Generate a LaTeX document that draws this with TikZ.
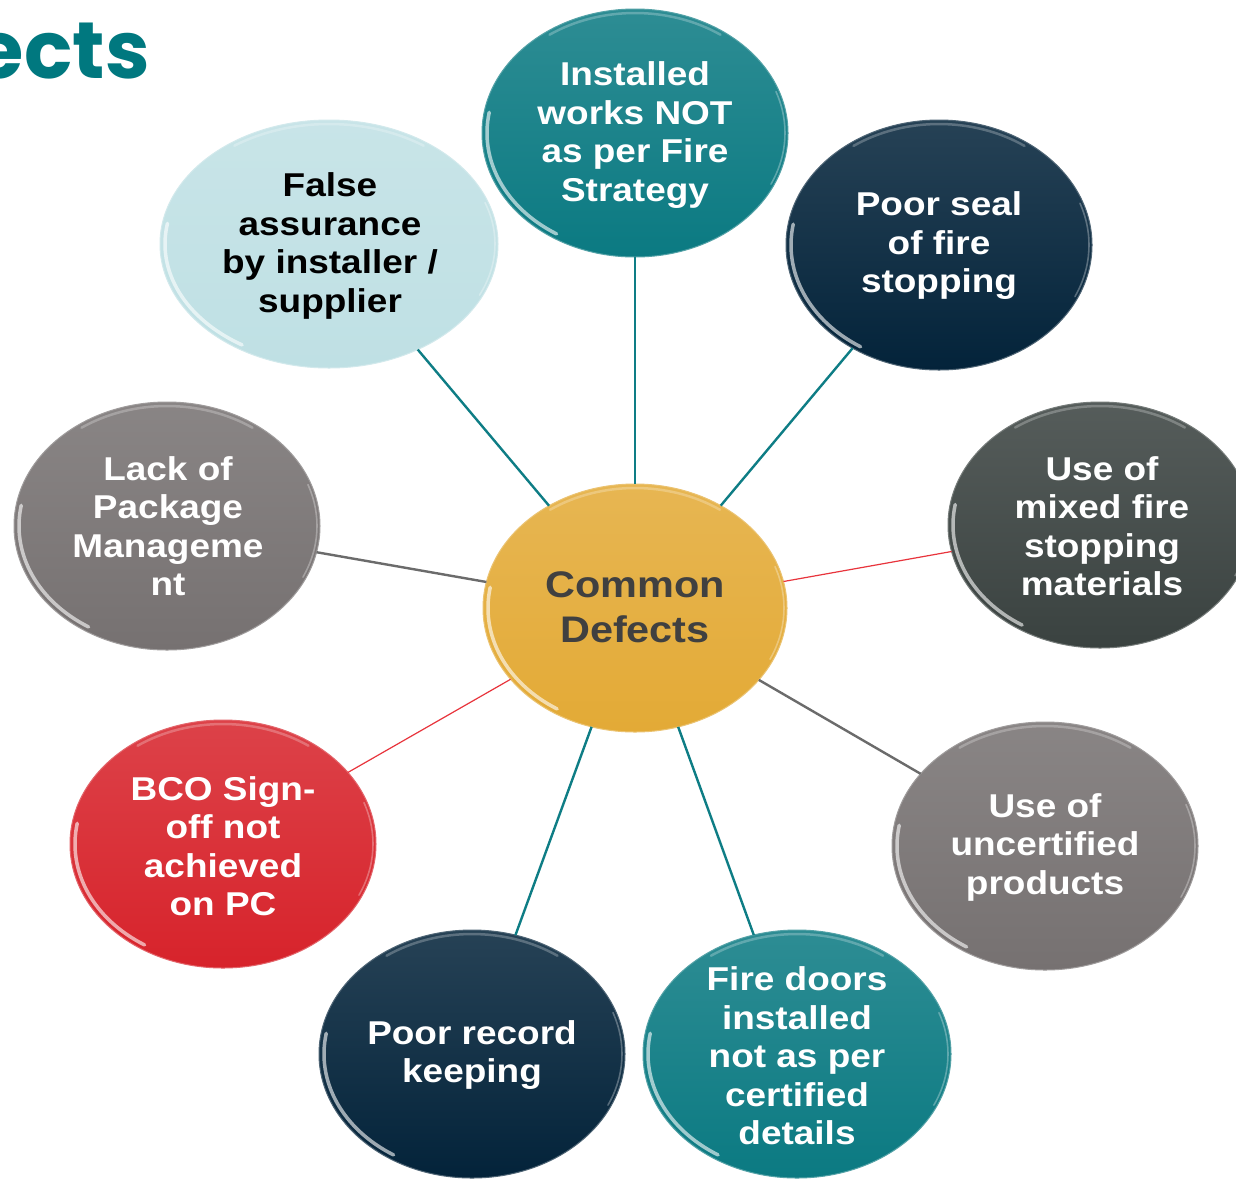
\documentclass[tikz,border=0pt]{standalone}
\usepackage{fontspec}
\setmainfont{Liberation Sans}[FakeStretch=1.12]
\newfontfamily\titlefont{Poppins}
\usetikzlibrary{shapes.geometric}
\definecolor{gold}{HTML}{E3AA36}
\definecolor{tealB}{HTML}{0B7A82}
\definecolor{navy}{HTML}{03233A}
\definecolor{charc}{HTML}{3A4240}
\definecolor{greyB}{HTML}{767171}
\definecolor{redB}{HTML}{D7232B}
\definecolor{lblue}{HTML}{BFE0E4}
\definecolor{lteal}{HTML}{0E7D85}
\definecolor{lgrey}{HTML}{6B6B6B}
\definecolor{lred}{HTML}{E8343C}
\definecolor{ctext}{HTML}{404040}
\definecolor{titleteal}{HTML}{00787F}
\tikzset{
  bub/.style={ellipse, inner sep=0pt, outer sep=0pt},
  txt/.style={align=center, inner sep=0pt, font=\bfseries\fontsize{33}{38.5}\selectfont},
  ctxt/.style={align=center, inner sep=0pt, font=\bfseries\fontsize{37}{45}\selectfont, text=ctext},
  tealline/.style={draw=lteal, line width=2.4pt},
  greyline/.style={draw=lgrey, line width=2.4pt},
  redline/.style={draw=lred, line width=1.2pt},
  gloss/.style={white, line cap=round},
}
% name, x, y, rx, ry, colour
\newcommand\mybubble[6]{%
  \node[bub, minimum width=2*#4, minimum height=2*#5,
        top color=#6!86!white, middle color=#6, bottom color=#6,
        draw=#6!70!white, line width=1pt] (#1) at (#2,#3) {};
  \draw[gloss, opacity=.6, line width=3.5pt]
     (#2,#3) ++(122:{#4-5} and {#5-5}) arc[start angle=122, end angle=190, x radius=#4-5, y radius=#5-5];
  \draw[gloss, opacity=.25, line width=2.5pt]
     (#2,#3) ++(235:{#4-4} and {#5-4}) arc[start angle=235, end angle=305, x radius=#4-4, y radius=#5-4];
  \draw[gloss, opacity=.3, line width=1.6pt]
     (#2,#3) ++(-20:{#4-3} and {#5-3}) arc[start angle=-20, end angle=25, x radius=#4-3, y radius=#5-3];
}
\begin{document}
\begin{tikzpicture}[x=1pt, y=-1pt]
\useasboundingbox (0,0) rectangle (1236,1179);
\fill[white] (0,0) rectangle (1236,1179);

\node[anchor=base east, inner sep=0pt, text=titleteal,
      font=\titlefont\bfseries\fontsize{80}{82}\selectfont] (title) at (150,78) {ects};

\mybubble{cen}{635}{608}{152}{124}{gold}
\mybubble{inst}{635}{133}{153}{124}{tealB}
\mybubble{seal}{939}{245}{153}{125}{navy}
\mybubble{mixed}{1100}{525}{152}{123}{charc}
\mybubble{uncert}{1045}{846}{153}{124}{greyB}
\mybubble{doors}{797}{1054}{154}{124}{tealB}
\mybubble{record}{472}{1054}{153}{124}{navy}
\mybubble{bco}{223}{844}{153}{124}{redB}
\mybubble{lack}{167}{526}{153}{124}{greyB}
\mybubble{false}{329}{244}{169}{124}{lblue}

\node[ctxt] (tcen) at (635,607) {Common\\Defects};
\node[txt, text=white] (tinst) at (635,135) {Installed\\works NOT\\as per Fire\\Strategy};
\node[txt, text=white] (tseal) at (939,246) {Poor seal\\of fire\\stopping};
\node[txt, text=white] (tmixed) at (1102,526) {Use of\\mixed fire\\stopping\\materials};
\node[txt, text=white] (tuncert) at (1045,847) {Use of\\uncertified\\products};
\node[txt, text=white] (tdoors) at (797,1056) {Fire doors\\installed\\not as per\\certified\\details};
\node[txt, text=white] (trecord) at (472,1055) {Poor record\\keeping};
\node[txt, text=white] (tbco) at (223,846) {BCO Sign-\\off not\\achieved\\on PC};
\node[txt, text=white] (tlack) at (168,526) {Lack of\\Package\\Manageme\\nt};
\node[txt, text=black] (tfalse) at (330,246) {False\\assurance\\by installer /\\supplier};

\draw[tealline] (cen) -- (inst);
\draw[tealline] (cen) -- (seal);
\draw[redline] (cen) -- (mixed);
\draw[greyline] (cen) -- (uncert);
\draw[tealline] (cen) -- (doors);
\draw[tealline] (cen) -- (record);
\draw[redline] (cen) -- (bco);
\draw[greyline] (cen) -- (lack);
\draw[tealline] (cen) -- (false);
\end{tikzpicture}
\end{document}
